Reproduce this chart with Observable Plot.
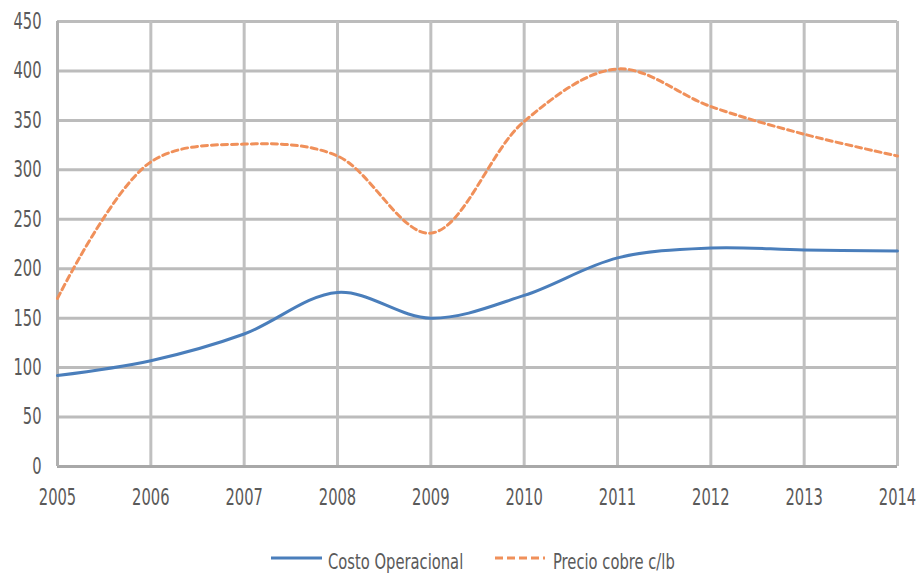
<!DOCTYPE html>
<html>
<head>
<meta charset="utf-8">
<script src="https://cdn.jsdelivr.net/npm/d3@7"></script>
<script src="https://cdn.jsdelivr.net/npm/@observablehq/plot@0.6"></script>
<style>
  body { margin: 0; background: #fff; font-family: "DejaVu Sans", sans-serif; }
  svg { display: block; }
</style>
</head>
<body>
<div id="chart"></div>
<div id="legend"></div>
<script>
const years = [2005, 2006, 2007, 2008, 2009, 2010, 2011, 2012, 2013, 2014];
const costoOperacional = [92, 107, 134, 176, 150, 173, 211, 221, 219, 218];
const precioCobre = [170, 308, 326, 314, 236, 349, 402, 364, 336, 314];
const seriesNames = ["Costo Operacional", "Precio cobre c/lb"];
const yTicks = [0, 50, 100, 150, 200, 250, 300, 350, 400, 450];

const blue = "#4a7ebb";
const orange = "#f0905a";
const textColor = "#5a5a5a";

const costo = years.map((y, i) => ({year: y, value: costoOperacional[i]}));
const precio = years.map((y, i) => ({year: y, value: precioCobre[i]}));

function condense(svg, squeeze) {
  svg.querySelectorAll("text").forEach(t => {
    const x = parseFloat(t.getAttribute("x") || "0");
    const tr = t.getAttribute("transform") || "";
    t.setAttribute("transform", `${tr} translate(${x},0) scale(${squeeze},1) translate(${-x},0)`);
  });
}

const chart = Plot.plot({
  width: 918,
  height: 530,
  marginLeft: 57,
  marginRight: 21,
  marginTop: 21,
  marginBottom: 64,
  style: {fontFamily: "'DejaVu Sans', sans-serif", fontSize: "23px", color: textColor, background: "#fff"},
  x: {domain: [2005, 2014], ticks: years, tickFormat: d => String(d), tickSize: 0, tickPadding: 22, label: null},
  y: {domain: [0, 450], ticks: yTicks, tickSize: 0, tickPadding: 16, label: null},
  marks: [
    Plot.gridY(yTicks, {stroke: "#bcbcbc", strokeOpacity: 1, strokeWidth: 3}),
    Plot.gridX(years, {stroke: "#c0c0c0", strokeOpacity: 1, strokeWidth: 3}),
    Plot.ruleY([0], {stroke: "#a8a8a8", strokeWidth: 3}),
    Plot.ruleX([2005], {stroke: "#b0b0b0", strokeWidth: 3}),
    Plot.line(costo, {x: "year", y: "value", stroke: blue, strokeWidth: 3, curve: "catmull-rom"}),
    Plot.line(precio, {x: "year", y: "value", stroke: orange, strokeWidth: 3, strokeDasharray: "6,4", curve: "catmull-rom"}),
    Plot.axisX({ticks: years, tickFormat: d => String(d), tickSize: 0, tickPadding: 22, fill: textColor}),
    Plot.axisY({ticks: yTicks, tickSize: 0, tickPadding: 16, fill: textColor})
  ]
});
condense(chart, 0.64);
document.getElementById("chart").appendChild(chart);

// Legend below the chart SVG
const legendItems = [
  {name: seriesNames[0], color: blue, dash: null, x1: 271, x2: 322, tx: 328},
  {name: seriesNames[1], color: orange, dash: "8,4", x1: 495, x2: 545, tx: 553}
];
const lsvg = d3.select("#legend").append("svg").attr("width", 918).attr("height", 43)
  .attr("font-family", "'DejaVu Sans', sans-serif").attr("font-size", 22);
legendItems.forEach(it => {
  lsvg.append("line").attr("x1", it.x1).attr("x2", it.x2).attr("y1", 28).attr("y2", 28)
    .attr("stroke", it.color).attr("stroke-width", 3).attr("stroke-dasharray", it.dash);
  lsvg.append("text").attr("x", it.tx).attr("y", 32).attr("dy", "0.32em").attr("fill", textColor)
    .text(it.name);
});
condense(lsvg.node(), 0.67);
</script>
</body>
</html>
